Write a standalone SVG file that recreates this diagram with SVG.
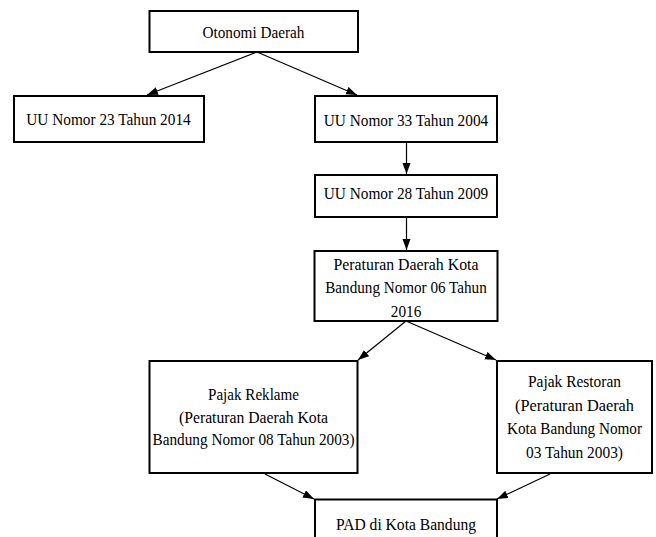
<svg xmlns="http://www.w3.org/2000/svg" width="656" height="537" viewBox="0 0 656 537">
<defs>
<marker id="ah" markerUnits="userSpaceOnUse" markerWidth="12" markerHeight="10" refX="11" refY="4" orient="auto">
<path d="M0,0 L11,4 L0,8 Z" fill="#000"/>
</marker>
</defs>
<rect width="656" height="537" fill="#fff"/>
<g id="connectors" stroke="#000" stroke-width="1.2" fill="none">
<line x1="257" y1="52" x2="147" y2="95" marker-end="url(#ah)"/>
<line x1="257" y1="52" x2="357" y2="95" marker-end="url(#ah)"/>
<line x1="406.5" y1="142" x2="406.5" y2="174" marker-end="url(#ah)"/>
<line x1="406.5" y1="217" x2="406.5" y2="250" marker-end="url(#ah)"/>
<line x1="406" y1="321" x2="358" y2="360" marker-end="url(#ah)"/>
<line x1="406" y1="321" x2="496" y2="360" marker-end="url(#ah)"/>
<line x1="265" y1="474" x2="314" y2="499" marker-end="url(#ah)"/>
<line x1="550" y1="474" x2="497" y2="499" marker-end="url(#ah)"/>
</g>
<g id="otonomi">
<rect x="149.5" y="11" width="208.5" height="41" fill="#fff" stroke="#000" stroke-width="2"/>
<text x="202.5" y="38" font-family="Liberation Serif" font-size="17.5" textLength="102" lengthAdjust="spacingAndGlyphs">Otonomi Daerah</text>
</g>
<g id="uu23">
<rect x="14" y="96" width="190" height="46" fill="#fff" stroke="#000" stroke-width="2"/>
<text x="26.25" y="125" font-family="Liberation Serif" font-size="17.5" textLength="164.5" lengthAdjust="spacingAndGlyphs">UU Nomor 23 Tahun 2014</text>
</g>
<g id="uu33">
<rect x="315" y="96" width="182" height="46" fill="#fff" stroke="#000" stroke-width="2"/>
<text x="323.75" y="125.5" font-family="Liberation Serif" font-size="17.5" textLength="164.5" lengthAdjust="spacingAndGlyphs">UU Nomor 33 Tahun 2004</text>
</g>
<g id="uu28">
<rect x="315" y="175" width="182" height="42" fill="#fff" stroke="#000" stroke-width="2"/>
<text x="323.75" y="198.5" font-family="Liberation Serif" font-size="17.5" textLength="164.5" lengthAdjust="spacingAndGlyphs">UU Nomor 28 Tahun 2009</text>
</g>
<g id="perda2016">
<rect x="314.5" y="251" width="183" height="70" fill="#fff" stroke="#000" stroke-width="2"/>
<text x="333.5" y="270" font-family="Liberation Serif" font-size="17.5" textLength="145" lengthAdjust="spacingAndGlyphs">Peraturan Daerah Kota</text>
<text x="325.25" y="293" font-family="Liberation Serif" font-size="17.5" textLength="161.5" lengthAdjust="spacingAndGlyphs">Bandung Nomor 06 Tahun</text>
<text x="390.75" y="316.5" font-family="Liberation Serif" font-size="17.5" textLength="30.5" lengthAdjust="spacingAndGlyphs">2016</text>
</g>
<g id="reklame">
<rect x="149.5" y="361" width="208" height="112" fill="#fff" stroke="#000" stroke-width="2"/>
<text x="208" y="400" font-family="Liberation Serif" font-size="17.5" textLength="91" lengthAdjust="spacingAndGlyphs">Pajak Reklame</text>
<text x="179" y="422.5" font-family="Liberation Serif" font-size="17.5" textLength="149" lengthAdjust="spacingAndGlyphs">(Peraturan Daerah Kota</text>
<text x="152.5" y="445" font-family="Liberation Serif" font-size="17.5" textLength="202" lengthAdjust="spacingAndGlyphs">Bandung Nomor 08 Tahun 2003)</text>
</g>
<g id="restoran">
<rect x="497" y="361" width="155" height="112" fill="#fff" stroke="#000" stroke-width="2"/>
<text x="528" y="387" font-family="Liberation Serif" font-size="17.5" textLength="93" lengthAdjust="spacingAndGlyphs">Pajak Restoran</text>
<text x="515" y="410.5" font-family="Liberation Serif" font-size="17.5" textLength="119" lengthAdjust="spacingAndGlyphs">(Peraturan Daerah</text>
<text x="507" y="434" font-family="Liberation Serif" font-size="17.5" textLength="135" lengthAdjust="spacingAndGlyphs">Kota Bandung Nomor</text>
<text x="526" y="457.5" font-family="Liberation Serif" font-size="17.5" textLength="97" lengthAdjust="spacingAndGlyphs">03 Tahun 2003)</text>
</g>
<g id="pad">
<rect x="315" y="499.5" width="182" height="50" fill="#fff" stroke="#000" stroke-width="2"/>
<text x="336" y="530" font-family="Liberation Serif" font-size="17.5" textLength="140" lengthAdjust="spacingAndGlyphs">PAD di Kota Bandung</text>
</g>
</svg>
